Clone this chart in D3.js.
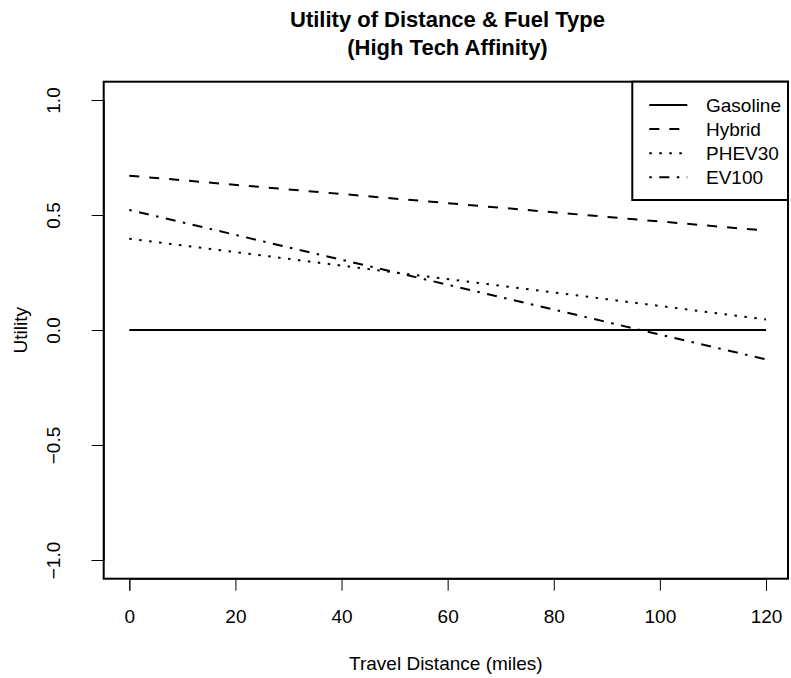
<!DOCTYPE html>
<html>
<head>
<meta charset="utf-8">
<script src="https://cdn.jsdelivr.net/npm/d3@7"></script>
<style>
  html, body { margin: 0; padding: 0; background: #fff; }
  svg { display: block; }
  text { font-family: "Liberation Sans", Arial, Helvetica, sans-serif; fill: #000; }
</style>
</head>
<body>
<svg id="chart" width="791" height="678"></svg>
<script>
// Travel distance endpoints (miles) at which each utility line is evaluated
const distances = [0, 120];

// Utility of each fuel type at those distances
const gasoline = [0.0, 0.0];
const hybrid   = [0.671, 0.432];
const phev30   = [0.397, 0.046];
const ev100    = [0.522, -0.128];

const seriesNames = ["Gasoline", "Hybrid", "PHEV30", "EV100"];

const xTicks = [0, 20, 40, 60, 80, 100, 120];
const yTicks = [-1.0, -0.5, 0.0, 0.5, 1.0];

const titleLines = ["Utility of Distance & Fuel Type", "(High Tech Affinity)"];
const xLabel = "Travel Distance (miles)";
const yLabel = "Utility";

// Line patterns (R lty 1..4 at this line width)
const dashes = {
  Gasoline: null,
  Hybrid: "10,10",
  PHEV30: "2.5,7.5",
  EV100: "2.5,7.5,10,7.5"
};

const series = [
  { name: "Gasoline", values: gasoline },
  { name: "Hybrid", values: hybrid },
  { name: "PHEV30", values: phev30 },
  { name: "EV100", values: ev100 }
];

const svg = d3.select("#chart");

// Plot frame
const frame = { left: 103.7, right: 788, top: 81.7, bottom: 578.7 };

const x = d3.scaleLinear().domain([0, 120]).range([129.3, 766]);
const y = d3.scaleLinear().domain([-1, 1]).range([560, 100]);

const fontSize = 19;

// Lines
const line = d3.line()
  .x((d, i) => x(distances[i]))
  .y(d => y(d));

series.forEach(s => {
  svg.append("path")
    .datum(s.values)
    .attr("d", line)
    .attr("fill", "none")
    .attr("stroke", "#000")
    .attr("stroke-width", 2)
    .attr("stroke-dasharray", dashes[s.name])
    .attr("stroke-linecap", "butt");
});

// Frame box
svg.append("rect")
  .attr("x", frame.left)
  .attr("y", frame.top)
  .attr("width", frame.right - frame.left)
  .attr("height", frame.bottom - frame.top)
  .attr("fill", "none")
  .attr("stroke", "#000")
  .attr("stroke-width", 2);

// Bottom axis
const xAxis = d3.axisBottom(x)
  .tickValues(xTicks)
  .tickSize(12)
  .tickPadding(19)
  .tickFormat(d3.format("d"));

const gx = svg.append("g")
  .attr("transform", `translate(0,${frame.bottom})`)
  .call(xAxis);
gx.select(".domain").attr("stroke-width", 1);
gx.selectAll(".tick line").attr("stroke-width", 1);
gx.selectAll(".tick text")
  .attr("font-size", fontSize)
  .attr("font-family", "Liberation Sans, Arial, sans-serif")
  .attr("fill", "#000");

// Left axis, labels parallel to the axis
const yFmt = d => (d < 0 ? "\u2212" : "") + d3.format(".1f")(Math.abs(d));
const yAxis = d3.axisLeft(y)
  .tickValues(yTicks)
  .tickSize(12)
  .tickFormat(yFmt);

const gy = svg.append("g")
  .attr("transform", `translate(${frame.left},0)`)
  .call(yAxis);
gy.select(".domain").attr("stroke-width", 1);
gy.selectAll(".tick line").attr("stroke-width", 1);
gy.selectAll(".tick text")
  .attr("font-size", fontSize)
  .attr("font-family", "Liberation Sans, Arial, sans-serif")
  .attr("fill", "#000")
  .attr("text-anchor", "middle")
  .attr("dy", null)
  .attr("x", null)
  .attr("transform", `translate(${60 - frame.left},0) rotate(-90)`);

// Axis titles
svg.append("text")
  .attr("x", (frame.left + frame.right) / 2)
  .attr("y", 669.5)
  .attr("text-anchor", "middle")
  .attr("font-size", fontSize)
  .text(xLabel);

svg.append("text")
  .attr("transform", `translate(27,${(frame.top + frame.bottom) / 2}) rotate(-90)`)
  .attr("text-anchor", "middle")
  .attr("font-size", fontSize)
  .text(yLabel);

// Title
titleLines.forEach((t, i) => {
  svg.append("text")
    .attr("x", 447.5)
    .attr("y", 26.8 + i * 28.3)
    .attr("text-anchor", "middle")
    .attr("font-size", 22)
    .attr("font-weight", "bold")
    .text(t);
});

// Legend
const legend = { left: 632.3, top: frame.top, bottom: 200 };
svg.append("rect")
  .attr("x", legend.left)
  .attr("y", legend.top)
  .attr("width", frame.right - legend.left)
  .attr("height", legend.bottom - legend.top)
  .attr("fill", "#fff")
  .attr("stroke", "#000")
  .attr("stroke-width", 2);

const rowY = d3.scalePoint().domain(seriesNames).range([105, 177.3]);

seriesNames.forEach(name => {
  const yy = rowY(name);
  svg.append("line")
    .attr("x1", 649.3)
    .attr("x2", 687.3)
    .attr("y1", yy)
    .attr("y2", yy)
    .attr("stroke", "#000")
    .attr("stroke-width", 2)
    .attr("stroke-dasharray", dashes[name]);
  svg.append("text")
    .attr("x", 706)
    .attr("y", yy + 6.8)
    .attr("font-size", fontSize)
    .text(name);
});
</script>
</body>
</html>
